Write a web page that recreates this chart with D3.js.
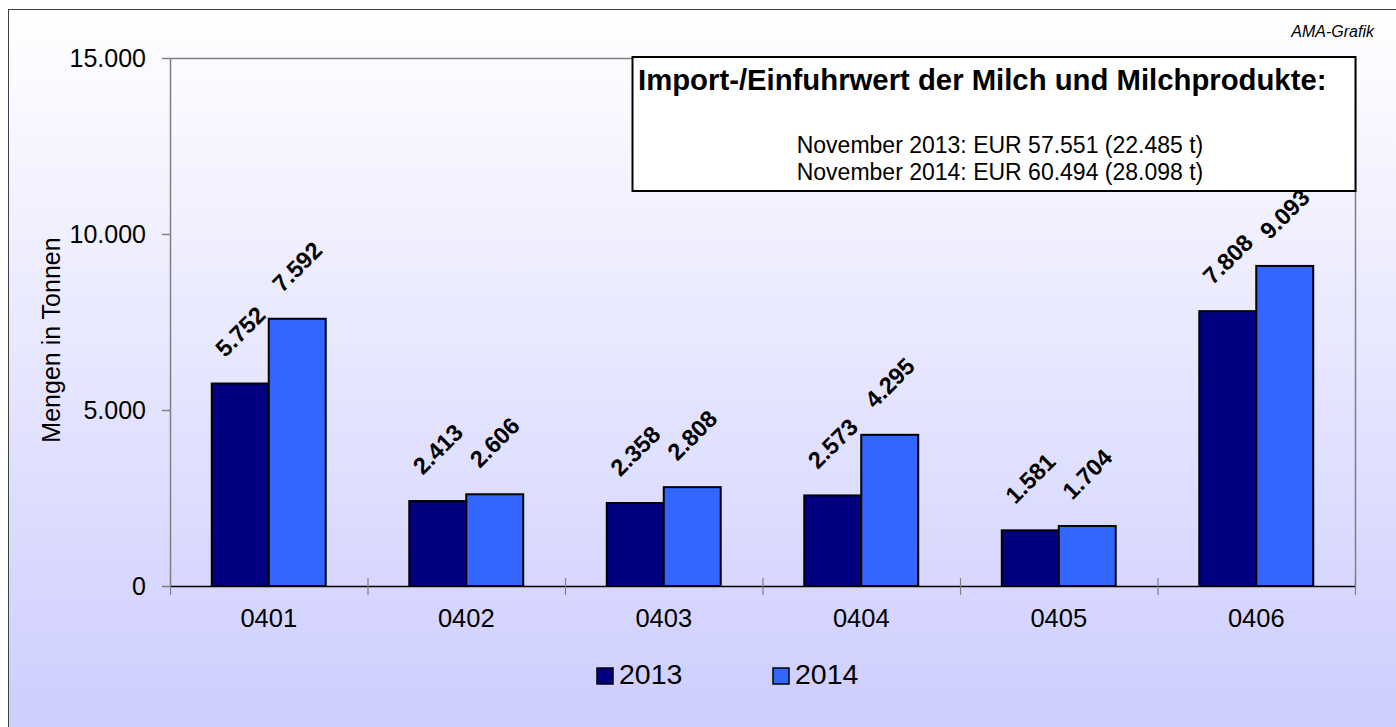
<!doctype html>
<html>
<head>
<meta charset="utf-8">
<script src="https://cdn.jsdelivr.net/npm/d3@7"></script>
<style>
body { margin: 0; background: #fff; }
text { font-family: "Liberation Sans", Arial, sans-serif; fill: #000; }
</style>
</head>
<body>
<script>

var categories = ["0401", "0402", "0403", "0404", "0405", "0406"];
var series = ["2013", "2014"];
var values2013 = [5752, 2413, 2358, 2573, 1581, 7808];
var values2014 = [7592, 2606, 2808, 4295, 1704, 9093];
var colors = ["#000080", "#3366ff"];
var yTicks = [0, 5000, 10000, 15000];
var boxTitle = "Import-/Einfuhrwert der Milch und Milchprodukte:";
var boxLines = ["November 2013: EUR 57.551 (22.485 t)", "November 2014: EUR 60.494 (28.098 t)"];

var W = 1396, H = 727;
var plot = {left: 170, right: 1355, top: 58, bottom: 586};

var de = d3.formatLocale({decimal: ",", thousands: ".", grouping: [3], currency: ["", " €"]});
var fmt = de.format(",d");

var svg = d3.select("body").append("svg")
  .attr("width", W)
  .attr("height", H);

var grad = svg.append("defs").append("linearGradient")
  .attr("id", "bg")
  .attr("x1", 0).attr("y1", 0).attr("x2", 0).attr("y2", 1);
grad.append("stop").attr("offset", "0%").attr("stop-color", "#ffffff");
grad.append("stop").attr("offset", "100%").attr("stop-color", "#ccccff");

// frame
svg.append("rect")
  .attr("x", 8.5).attr("y", 9.5)
  .attr("width", W + 10).attr("height", H + 10)
  .attr("fill", "url(#bg)")
  .attr("stroke", "#404040")
  .attr("stroke-width", 1);

var x0 = d3.scaleBand()
  .domain(categories)
  .range([plot.left, plot.right])
  .paddingInner(0.423)
  .paddingOuter(0.2115);
var x1 = d3.scaleBand()
  .domain(series)
  .range([0, x0.bandwidth()]);
var y = d3.scaleLinear()
  .domain([0, 15000])
  .range([plot.bottom, plot.top]);

// plot border (top, left, right)
svg.append("path")
  .attr("d", "M" + (plot.left + 0.5) + "," + plot.bottom + "V" + (plot.top + 0.5) + "H" + (plot.right + 0.5) + "V" + plot.bottom)
  .attr("fill", "none")
  .attr("stroke", "#808080")
  .attr("stroke-width", 1.5);

// y axis
var yAxis = svg.append("g")
  .attr("transform", "translate(" + plot.left + ",0)")
  .call(d3.axisLeft(y).tickValues(yTicks).tickSize(8).tickPadding(16).tickFormat(fmt));
yAxis.select(".domain").remove();
yAxis.selectAll(".tick line").attr("stroke", "#808080").attr("stroke-width", 1.5);
yAxis.selectAll(".tick text")
  .style("font-size", "25px")
  .style("font-family", "Liberation Sans, Arial, sans-serif")
  .attr("fill", "#000");

svg.append("text")
  .attr("transform", "translate(60,340) rotate(-90)")
  .attr("text-anchor", "middle")
  .style("font-size", "25px")
  .text("Mengen in Tonnen");

// bars
var data = categories.map((c, i) => ({cat: c, vals: [values2013[i], values2014[i]]}));
var groups = svg.append("g").selectAll("g")
  .data(data)
  .join("g")
  .attr("transform", d => "translate(" + x0(d.cat) + ",0)");

groups.selectAll("rect")
  .data(d => d.vals.map((v, j) => ({s: series[j], v: v, c: colors[j]})))
  .join("rect")
  .attr("x", d => x1(d.s))
  .attr("y", d => y(d.v))
  .attr("width", x1.bandwidth())
  .attr("height", d => y(0) - y(d.v))
  .attr("fill", d => d.c)
  .attr("stroke", "#000")
  .attr("stroke-width", 2);

// x axis line + ticks
svg.append("line")
  .attr("x1", plot.left).attr("x2", plot.right)
  .attr("y1", plot.bottom + 0.5).attr("y2", plot.bottom + 0.5)
  .attr("stroke", "#000")
  .attr("stroke-width", 1.5);

var bounds = d3.range(categories.length + 1).map(i => plot.left + i * x0.step());
svg.append("g").selectAll("line")
  .data(bounds)
  .join("line")
  .attr("x1", d => d + 0.5).attr("x2", d => d + 0.5)
  .attr("y1", plot.bottom - 8).attr("y2", plot.bottom + 9)
  .attr("stroke", "#808080")
  .attr("stroke-width", 1.2);

svg.append("g").selectAll("text")
  .data(categories)
  .join("text")
  .attr("x", d => x0(d) + x0.bandwidth() / 2)
  .attr("y", 627)
  .attr("text-anchor", "middle")
  .style("font-size", "25.5px")
  .text(d => d);

// value labels
groups.selectAll("text")
  .data(d => d.vals.map((v, j) => ({s: series[j], v: v})))
  .join("text")
  .attr("transform", d => "translate(" + (x1(d.s) + x1.bandwidth() / 2) + "," + (y(d.v) - 52) + ") rotate(-45)")
  .attr("text-anchor", "middle")
  .attr("dy", "0.35em")
  .style("font-size", "23.5px")
  .style("font-weight", "bold")
  .text(d => fmt(d.v));

// info box
var box = svg.append("g");
box.append("rect")
  .attr("x", 632.5).attr("y", 57)
  .attr("width", 723).attr("height", 134)
  .attr("fill", "#fff")
  .attr("stroke", "#000")
  .attr("stroke-width", 2);
box.append("text")
  .attr("x", 638).attr("y", 90)
  .style("font-size", "29.3px")
  .style("font-weight", "bold")
  .text(boxTitle);
box.selectAll("text.line")
  .data(boxLines)
  .join("text")
  .attr("class", "line")
  .attr("x", 1000)
  .attr("y", (d, i) => 153 + i * 27)
  .attr("text-anchor", "middle")
  .style("font-size", "23px")
  .text(d => d);

svg.append("text")
  .attr("x", 1374).attr("y", 37)
  .attr("text-anchor", "end")
  .style("font-size", "16px")
  .style("font-style", "italic")
  .text("AMA-Grafik");

// legend
var legend = svg.append("g").selectAll("g")
  .data(series)
  .join("g")
  .attr("transform", (d, i) => "translate(" + (597 + i * 176) + ",668)");
legend.append("rect")
  .attr("width", 16).attr("height", 16)
  .attr("fill", (d, i) => colors[i])
  .attr("stroke", "#000")
  .attr("stroke-width", 1.5);
legend.append("text")
  .attr("x", 22).attr("y", 16)
  .style("font-size", "28.5px")
  .text(d => d);

</script>
</body>
</html>
